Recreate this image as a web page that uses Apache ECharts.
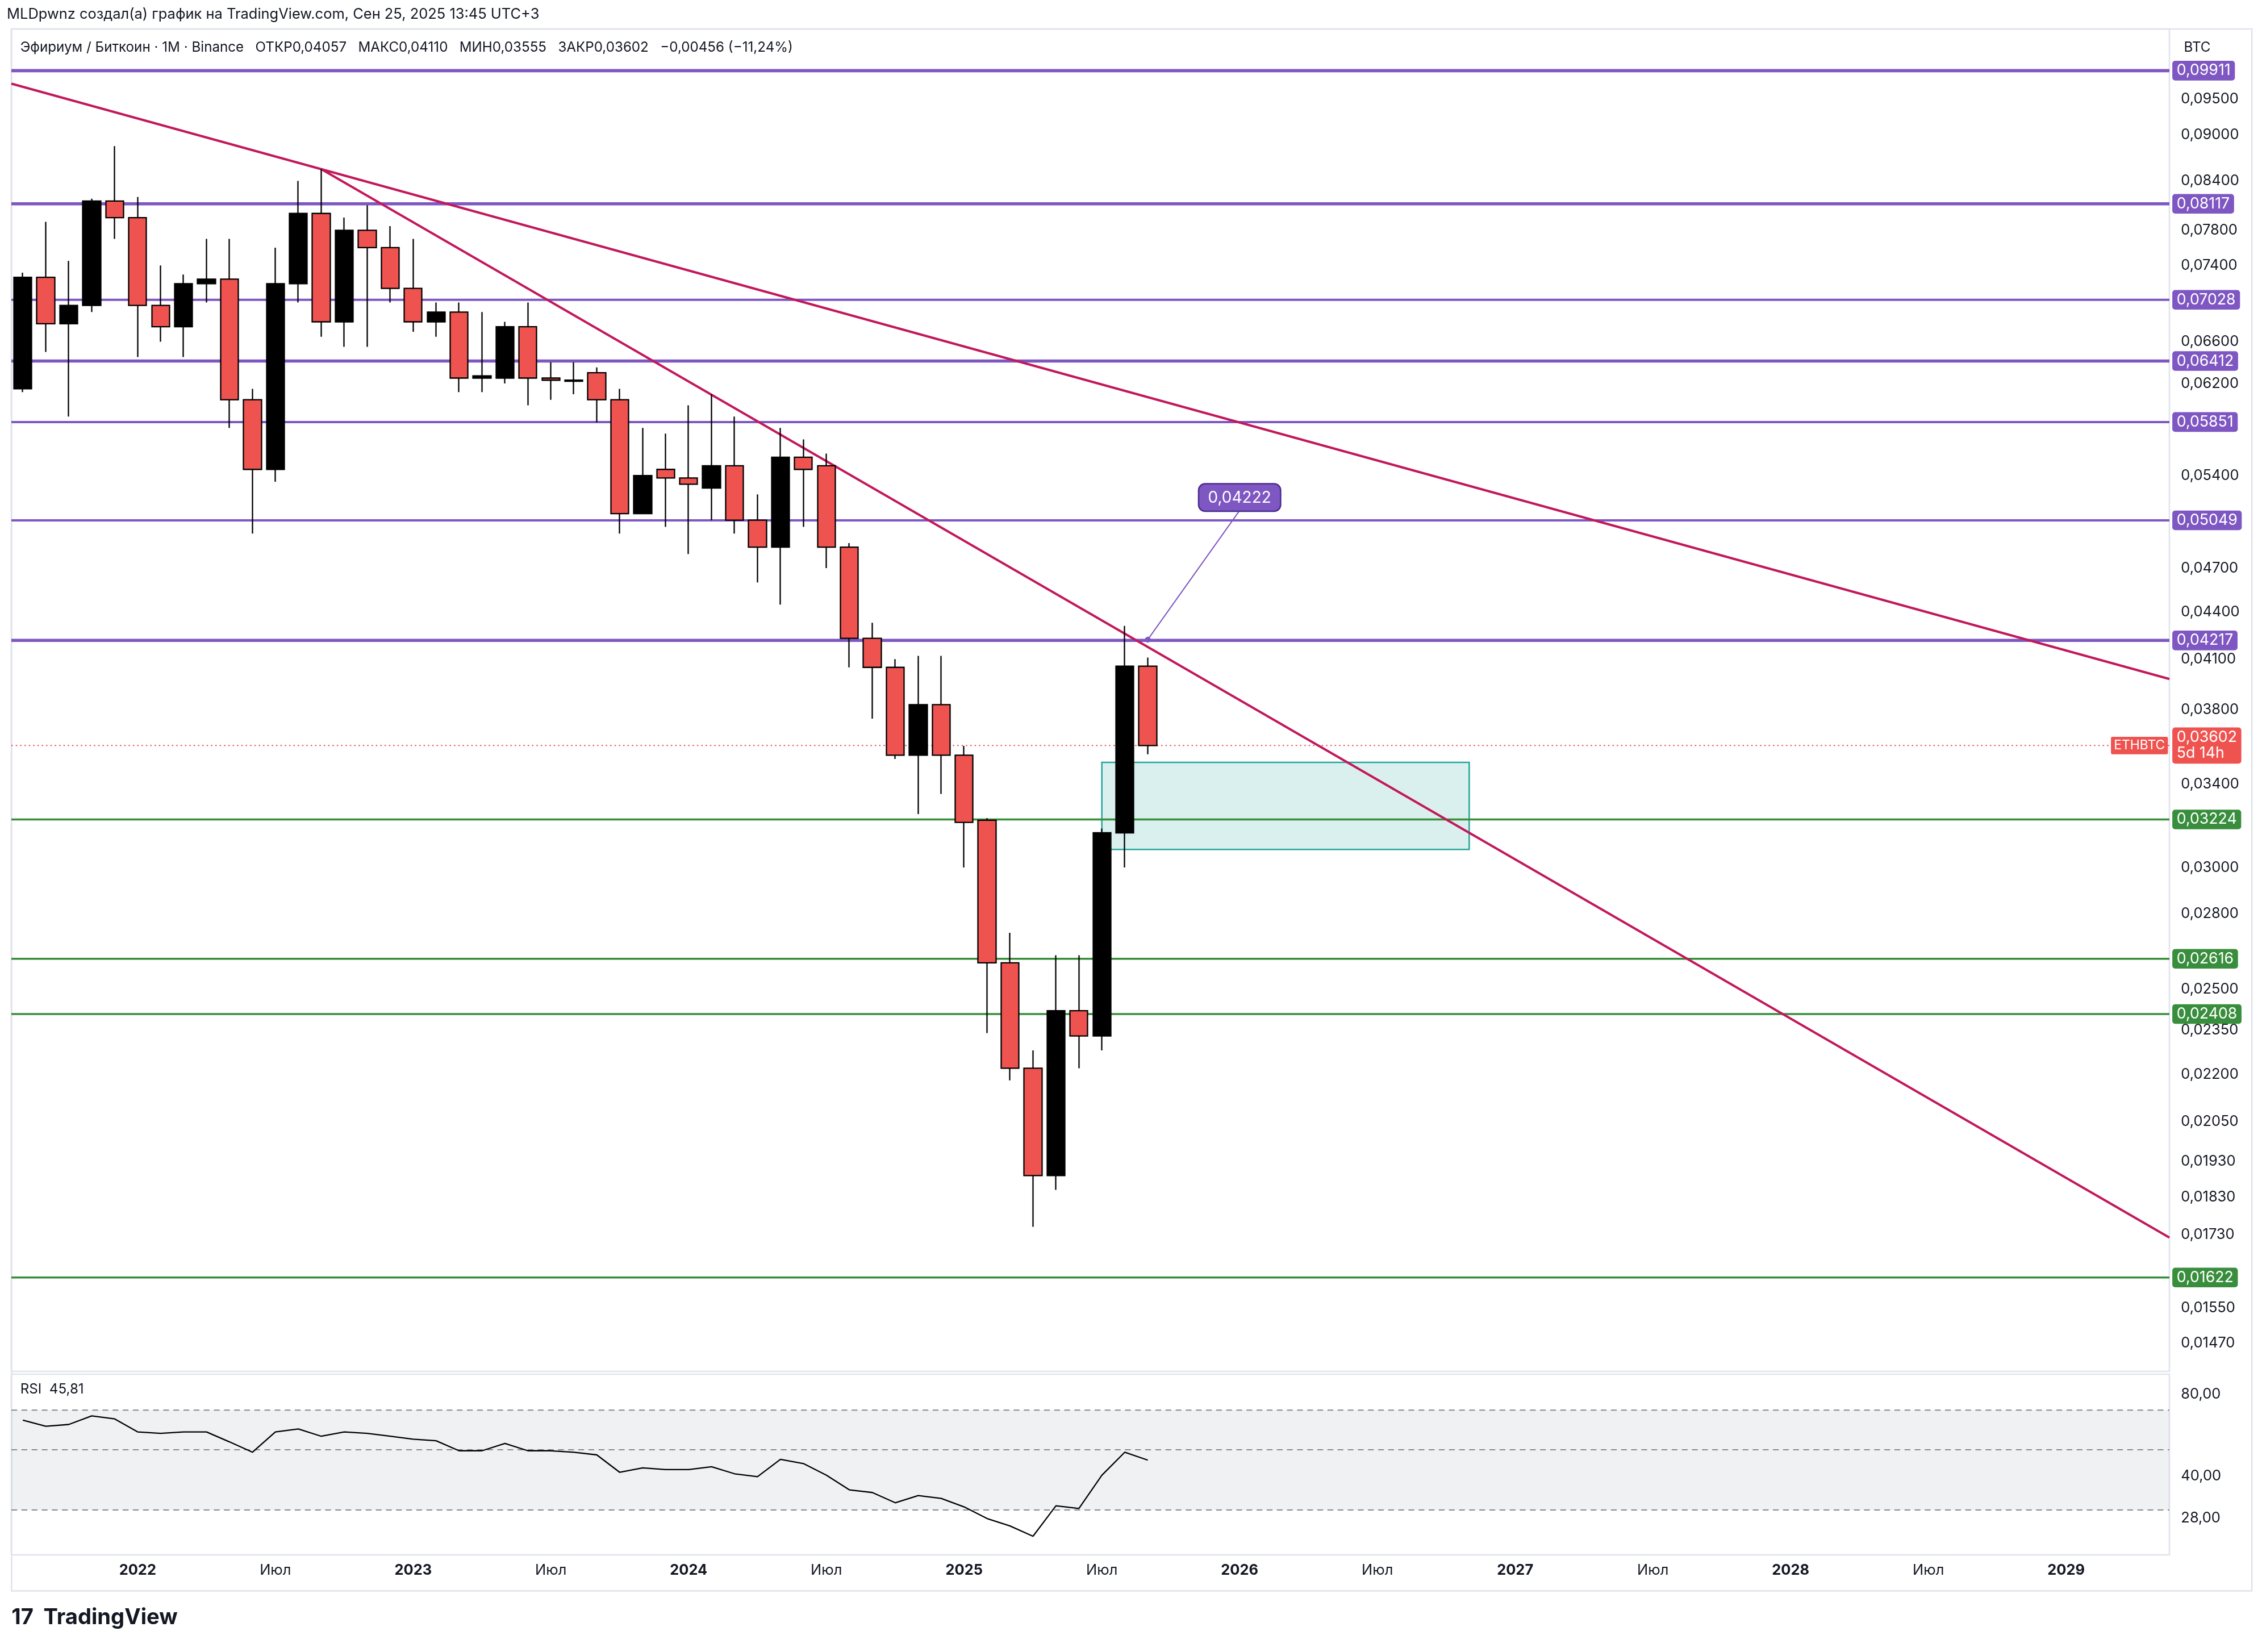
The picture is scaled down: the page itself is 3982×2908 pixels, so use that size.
<!DOCTYPE html>
<html><head><meta charset="utf-8">
<script src="https://cdn.jsdelivr.net/npm/echarts@6/dist/echarts.min.js"></script>
<style>html,body{margin:0;padding:0;background:#fff}#c{width:3982px;height:2908px}</style>
</head><body><div id="c"></div>
<script>
const S = 2.546;
const FONT = 'Inter, Roboto, sans-serif';
// months Aug 2021 .. May 2029
const categories = [];
for (let y = 2021, m = 8; !(y === 2029 && m === 6); ) {
  categories.push(y + '-' + String(m).padStart(2, '0'));
  m++; if (m > 12) { m = 1; y++; }
}
// OHLC from Aug 2021: [open, close, low, high]
const ohlc = [
 [0.0615,0.0727,0.0612,0.0732],[0.0727,0.0678,0.0650,0.0790],[0.0678,0.0697,0.0590,0.0745],
 [0.0697,0.0815,0.0690,0.0818],[0.0815,0.0795,0.0770,0.0885],[0.0795,0.0697,0.0645,0.0820],
 [0.0697,0.0675,0.0660,0.0740],[0.0675,0.0720,0.0645,0.0730],[0.0720,0.0725,0.0700,0.0770],
 [0.0725,0.0605,0.0580,0.0770],[0.0605,0.0545,0.0495,0.0615],[0.0545,0.0720,0.0535,0.0760],
 [0.0720,0.0800,0.0700,0.0840],[0.0800,0.0680,0.0665,0.0855],[0.0680,0.0780,0.0655,0.0795],
 [0.0780,0.0760,0.0655,0.0810],[0.0760,0.0715,0.0700,0.0785],[0.0715,0.0680,0.0670,0.0770],
 [0.0680,0.0690,0.0665,0.0700],[0.0690,0.0625,0.0612,0.0700],[0.0625,0.0627,0.0612,0.0690],
 [0.0625,0.0675,0.0620,0.0680],[0.0675,0.0625,0.0600,0.0700],[0.0625,0.0623,0.0605,0.0640],
 [0.0623,0.0622,0.0610,0.0640],[0.0630,0.0605,0.0585,0.0635],[0.0605,0.0510,0.0495,0.0615],
 [0.0510,0.0540,0.0510,0.0580],[0.0545,0.0538,0.0500,0.0575],[0.0538,0.0533,0.0480,0.0600],
 [0.0530,0.0548,0.0505,0.0610],[0.0548,0.0505,0.0495,0.0590],[0.0505,0.0485,0.0460,0.0525],
 [0.0485,0.0555,0.0445,0.0580],[0.0555,0.0545,0.0500,0.0570],[0.0548,0.0485,0.0470,0.0558],
 [0.0485,0.0423,0.0405,0.0488],[0.0423,0.0405,0.0375,0.0433],[0.0405,0.0355,0.0353,0.0410],
 [0.0355,0.0383,0.0325,0.0412],[0.0383,0.0355,0.0335,0.0412],[0.0355,0.0321,0.0300,0.0360],
 [0.0322,0.0260,0.0234,0.0323],[0.0260,0.0222,0.0218,0.0272],[0.0222,0.0189,0.0175,0.0228],
 [0.0189,0.0242,0.0185,0.0263],[0.0242,0.0233,0.0222,0.0263],[0.0233,0.0316,0.0228,0.0318],
 [0.0316,0.04057,0.0300,0.0431],[0.04057,0.03602,0.03555,0.04110]
];
const rsi = [64.3,61.1,62,66.7,65,58.2,57.5,58.2,58.2,53.5,49,58.2,59.7,56.1,58.2,57.5,56.1,54.7,54,49.6,
 49.6,52.8,49.6,49.6,49,47.9,41.3,42.9,42.3,42.3,43.3,40.8,39.8,46.1,44.5,40.3,35.6,34.8,31.9,33.9,
 33.1,30.8,27.9,26.2,24.0,31.1,30.4,40.3,49,45.81];
const purpleLevels = [0.09911,0.08117,0.07028,0.06412,0.05851,0.05049,0.04217];
const purpleThick  = [1,1,0,1,0,0,1];
const greenLevels = [0.03224,0.02616,0.02408,0.01622];
const priceTicks = [0.095,0.09,0.084,0.078,0.074,0.066,0.062,0.054,0.047,0.044,0.041,0.038,0.034,0.030,
 0.028,0.025,0.0235,0.022,0.0205,0.0193,0.0183,0.0173,0.0155,0.0147];
const rsiTicks = [80,40,28];
const rsiLevels = [70,50,30];
const lastPrice = 0.03602;
const trend1 = [[-0.5,0.0972],[93.5,0.0398]];
const trend2 = [[13,0.0855],[93.5,0.01722]];
const zone = [[47,0.03512],[63,0.03082]];
const callout = [[49,0.04222],[53,0.05124]];

const fmt = v => v.toFixed(5).replace('.', ',');
const PURPLE = '#7e57c2', GREEN = '#388e3c', RED = '#ef5350', CRIMSON = '#c2185b';
const XMIN = -0.5, XMAX = categories.length - 0.5;
const tag = (bg) => ({show:true, backgroundColor:bg, color:'#fff', fontFamily:FONT,
  fontSize:10.5*S, padding:[2*S,3*S,1*S,3*S], borderRadius:2*S, distance:2*S});

const overlay = [];
const hSeries = (v, color, width, type, endLabel, extraLast) => overlay.push({
  type:'line', xAxisIndex:2, yAxisIndex:0, silent:true, symbol:'none', z:3,
  data:[[XMIN, v], Object.assign({value:[XMAX, v]}, extraLast || {})],
  lineStyle:{color, width, type}, endLabel});
purpleLevels.forEach((v,i)=>hSeries(v, PURPLE, (purpleThick[i]?2.2:1.6)*S, 'solid', Object.assign(tag(PURPLE), {formatter:fmt(v)})));
greenLevels.forEach(v=>hSeries(v, GREEN, 1.4*S, 'solid', Object.assign(tag(GREEN), {formatter:fmt(v)})));
hSeries(lastPrice, RED, 0.8*S, [1*S,2*S], Object.assign(tag(RED), {formatter:fmt(lastPrice)+'\n5d 14h', lineHeight:11*S}),
  {symbol:'circle', symbolSize:0.1, label:{show:true, position:'left', distance:1*S, formatter:'ETHBTC',
    backgroundColor:RED, color:'#fff', fontSize:9*S, fontFamily:FONT, padding:[2*S,2*S,1*S,2*S], borderRadius:1*S}});
[trend1, trend2].forEach(t=>overlay.push({type:'line', xAxisIndex:2, yAxisIndex:0, silent:true, symbol:'none', z:3,
  data:t, lineStyle:{color:CRIMSON, width:1.6*S}}));
rsiLevels.forEach(v=>overlay.push({type:'line', xAxisIndex:3, yAxisIndex:1, silent:true, symbol:'none',
  data:[[XMIN,v],[XMAX,v]], lineStyle:{color:'#868993', width:0.8*S, type:[4*S,3*S]}}));
overlay.push({type:'line', xAxisIndex:3, yAxisIndex:1, silent:true, symbol:'none', data:[],
  markArea:{silent:true, itemStyle:{color:'rgba(120,123,134,0.11)'}, data:[[{coord:[XMIN,70]},{coord:[XMAX,30]}]]}});

const option = {
  animation:false, backgroundColor:'#fff',
  textStyle:{fontFamily:FONT},
  grid:[
    {left:20, right:163, top:51, height:2363, show:true, borderColor:'#e0e3eb', borderWidth:1*S},
    {left:20, right:163, top:2419, height:318, show:true, borderColor:'#e0e3eb', borderWidth:1*S}
  ],
  xAxis:[
    {type:'category', data:categories, gridIndex:0, boundaryGap:true, axisLine:{show:false}, axisTick:{show:false}, axisLabel:{show:false}},
    {type:'category', data:categories, gridIndex:1, boundaryGap:true, axisLine:{show:false}, axisTick:{show:false},
     axisLabel:{margin:6*S, fontSize:10*S, color:'#131722',
       interval:(i,v)=>{const m=v.slice(5); return m==='01'||m==='07';},
       formatter:v=>v.slice(5)==='01' ? '{b|'+v.slice(0,4)+'}' : 'Июл',
       rich:{b:{fontWeight:'bold', fontSize:10*S, color:'#131722', fontFamily:FONT}}}},
    {type:'value', gridIndex:0, min:XMIN, max:XMAX, show:false},
    {type:'value', gridIndex:1, min:XMIN, max:XMAX, show:false}
  ],
  yAxis:[
    {type:'log', logBase:10, gridIndex:0, position:'right', min:0.01409, max:0.1055, splitLine:{show:false},
     axisLine:{show:false}, axisTick:{show:false},
     axisLabel:{customValues:priceTicks, formatter:v=>fmt(v), fontSize:10*S, color:'#131722', margin:8*S}},
    {type:'log', logBase:10, gridIndex:1, position:'right', min:20.5, max:95, splitLine:{show:false},
     axisLine:{show:false}, axisTick:{show:false},
     axisLabel:{customValues:rsiTicks, formatter:v=>v.toFixed(2).replace('.',','), fontSize:10*S, color:'#131722', margin:8*S}}
  ],
  series:[
    {type:'candlestick', xAxisIndex:0, yAxisIndex:0, data:ohlc, barWidth:12.5*S, z:4,
     itemStyle:{color:'#000', color0:RED, borderColor:'#000', borderColor0:'#000', borderWidth:0.9*S},
     markLine:{silent:true, symbol:['none','none'], data:[
       [{coord:[categories[callout[0][0]], callout[0][1]], symbol:'circle', symbolSize:4*S,
         lineStyle:{color:PURPLE,width:0.8*S,type:'solid'},
         label:Object.assign(tag(PURPLE),{position:'end', formatter:fmt(callout[0][1]), fontSize:11*S,
           padding:[4*S,6*S,3*S,6*S], borderRadius:4*S, borderColor:'#4a2c8f', borderWidth:1*S, distance:0})},
        {coord:[categories[callout[1][0]], callout[1][1]]}]]},
     markArea:{silent:true, itemStyle:{color:'rgba(38,166,154,0.17)', borderColor:'#26a69a', borderWidth:1*S},
       data:[[{coord:[categories[zone[0][0]], zone[0][1]]},{coord:[categories[zone[1][0]], zone[1][1]]}]]}},
    {type:'line', xAxisIndex:1, yAxisIndex:1, data:rsi, symbol:'none', z:4, lineStyle:{color:'#000', width:0.9*S}}
  ].concat(overlay),
  graphic:[
    {type:'text', left:12, top:5*S, style:{text:'MLDpwnz создал(а) график на TradingView.com, Сен 25, 2025 13:45 UTC+3', font:`${10*S}px ${FONT}`, fill:'#131722'}},
    {type:'text', left:14*S, top:28*S, style:{text:'Эфириум / Биткоин · 1M · Binance   ОТКР0,04057   МАКС0,04110   МИН0,03555   ЗАКР0,03602   −0,00456 (−11,24%)', font:`${9.5*S}px ${FONT}`, fill:'#131722'}},
    {type:'text', left:1510*S, top:28*S, style:{text:'BTC', font:`${9.5*S}px ${FONT}`, fill:'#131722'}},
    {type:'text', left:14*S, top:956*S, style:{text:'RSI  45,81', font:`${9.5*S}px ${FONT}`, fill:'#131722'}},
    {type:'text', left:8*S, top:1111*S, style:{text:'17', font:`bold ${15*S}px ${FONT}`, fill:'#131722'}},
    {type:'text', left:30*S, top:1111*S, style:{text:'TradingView', font:`bold ${15*S}px ${FONT}`, fill:'#131722'}},
    {type:'rect', shape:{x:8*S, y:20*S, width:1549*S, height:1080*S}, style:{fill:'none', stroke:'#e0e3eb', lineWidth:1*S}, silent:true}
  ]
};
echarts.init(document.getElementById('c')).setOption(option);
</script></body></html>
